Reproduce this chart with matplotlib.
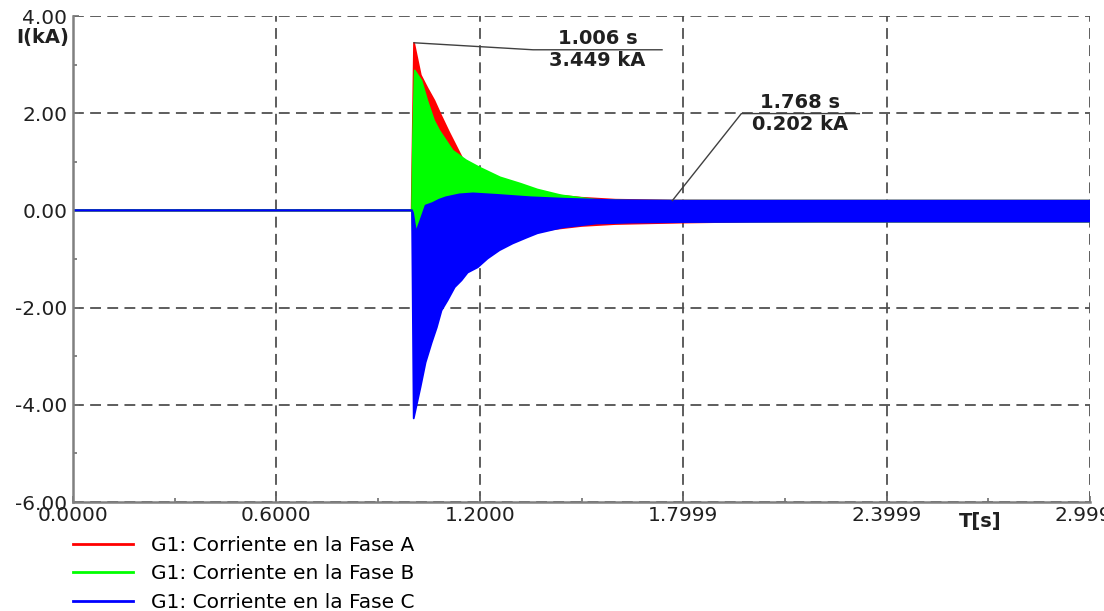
import matplotlib.pyplot as plt
from matplotlib.ticker import AutoMinorLocator

plt.rcParams['font.family'] = ['DejaVu Sans']

# Envolventes (tiempo en s, corriente en kA)
# Fase A (rojo)
ta_sup = [0.0, 0.999, 1.000, 1.006, 1.026, 1.046, 1.066, 1.086, 1.110, 1.150,
          1.200, 1.300, 1.400, 1.500, 1.600, 1.768, 2.000, 2.500, 2.9999]
ia_sup = [0.0, 0.0, 0.55, 3.449, 2.78, 2.51, 2.26, 1.95, 1.60, 1.05,
          0.80, 0.50, 0.33, 0.26, 0.22, 0.202, 0.20, 0.20, 0.20]
ta_inf = [0.0, 1.000, 1.006, 1.026, 1.060, 1.100, 1.200, 1.300, 1.400, 1.500,
          1.600, 1.800, 2.000, 2.9999]
ia_inf = [0.0, 0.0, 0.0, -0.20, -0.40, -0.50, -0.60, -0.55, -0.40, -0.32,
          -0.28, -0.25, -0.23, -0.23]

# Fase B (verde)
tb_sup = [0.0, 1.000, 1.003, 1.008, 1.028, 1.045, 1.065, 1.080, 1.100, 1.120,
          1.160, 1.200, 1.260, 1.320, 1.370, 1.440, 1.540, 1.640, 1.770, 2.000,
          2.500, 2.9999]
ib_sup = [0.0, 0.0, 1.50, 2.88, 2.67, 2.26, 1.85, 1.65, 1.44, 1.23,
          1.03, 0.88, 0.68, 0.55, 0.43, 0.31, 0.22, 0.20, 0.20, 0.20,
          0.20, 0.20]
tb_inf = [0.0, 1.000, 1.003, 1.008, 1.030, 1.065, 1.100, 1.160, 1.200, 1.260,
          1.320, 1.370, 1.440, 1.540, 1.640, 1.770, 2.000, 2.9999]
ib_inf = [0.0, 0.0, -0.50, -0.60, -0.90, -0.80, -0.70, -0.55, -0.50, -0.42,
          -0.37, -0.33, -0.29, -0.26, -0.24, -0.23, -0.23, -0.23]

# Fase C (azul)
tc_sup = [0.0, 1.000, 1.003, 1.012, 1.025, 1.040, 1.060, 1.080, 1.100, 1.140,
          1.180, 1.250, 1.350, 1.450, 1.600, 1.800, 2.9999]
ic_sup = [0.0, 0.0, -0.05, -0.45, -0.20, 0.10, 0.15, 0.22, 0.27, 0.33,
          0.35, 0.32, 0.27, 0.24, 0.21, 0.20, 0.20]
tc_inf = [0.0, 1.000, 1.005, 1.025, 1.040, 1.058, 1.073, 1.087, 1.105, 1.126,
          1.146, 1.164, 1.194, 1.223, 1.258, 1.297, 1.338, 1.370, 1.444, 1.544,
          1.650, 1.800, 2.200, 2.9999]
ic_inf = [0.0, 0.0, -4.28, -3.64, -3.13, -2.72, -2.41, -2.06, -1.85, -1.58,
          -1.44, -1.28, -1.17, -0.99, -0.82, -0.68, -0.56, -0.47, -0.35, -0.27,
          -0.25, -0.24, -0.23, -0.23]

nombres = ['G1: Corriente en la Fase A', 'G1: Corriente en la Fase B',
           'G1: Corriente en la Fase C']
colores = ['#ff0000', '#00ff00', '#0000ff']

# Marcadores (tiempo, valor)
marca_t = [1.006, 1.768]
marca_i = [3.449, 0.202]

xticks = [0.0, 0.59998, 1.19996, 1.79994, 2.39992, 2.9999]
xlabels = ['0.0000', '0.6000', '1.2000', '1.7999', '2.3999', '2.9999']
yticks = [-6, -4, -2, 0, 2, 4]
ylabels = ['-6.00', '-4.00', '-2.00', '0.00', '2.00', '4.00']

fig = plt.figure(figsize=(11.04, 6.11), dpi=100)
ax = fig.add_axes([73/1104, 1 - 502/611, (1090 - 73)/1104, (502 - 16)/611])

fases = [(ta_sup, ia_sup, ta_inf, ia_inf),
         (tb_sup, ib_sup, tb_inf, ib_inf),
         (tc_sup, ic_sup, tc_inf, ic_inf)]
for (ts, isup, ti, iinf), col, nom in zip(fases, colores, nombres):
    # poligono entre envolvente superior e inferior
    xs = list(ts) + list(ti[::-1])
    ys = list(isup) + list(iinf[::-1])
    ax.fill(xs, ys, color=col, lw=0, zorder=2)
    ax.plot(ts, isup, color=col, lw=1.3, zorder=2, label=nom)
    ax.plot(ti, iinf, color=col, lw=1.3, zorder=2)

ax.set_xlim(0, 2.9999)
ax.set_ylim(-6, 4)
ax.set_xticks(xticks)
ax.set_xticklabels(xlabels)
ax.set_yticks(yticks)
ax.set_yticklabels(ylabels)
ax.xaxis.set_minor_locator(AutoMinorLocator(2))
ax.yaxis.set_minor_locator(AutoMinorLocator(2))
ax.tick_params(which='both', direction='in', color='#707070', labelsize=14.5,
               labelcolor='#202020')
ax.tick_params(which='major', length=4, width=1.2)
ax.tick_params(which='minor', length=3, width=1.2)
ax.tick_params(axis='y', pad=4)
ax.tick_params(axis='x', pad=3)

ax.grid(True, which='major', color='#505050', lw=1.3, linestyle=(0, (6, 3.5)),
        zorder=1)
ax.set_axisbelow(True)
for s in ['top', 'right']:
    ax.spines[s].set_visible(False)
for s in ['left', 'bottom']:
    ax.spines[s].set_color('#808080')
    ax.spines[s].set_linewidth(1.8)
    ax.spines[s].set_zorder(3)

# Marcadores con linea de referencia (desplazamientos en pixeles)
geom = [(119, 7, 129), (69, -87, 118)]
for t, v, (dx, dy, w) in zip(marca_t, marca_i, geom):
    px, py = ax.transData.transform((t, v))
    ax.plot([px, px + dx, px + dx + w], [py, py - dy, py - dy],
            transform=None, color='#404040', lw=1.0, zorder=5, clip_on=False)
    fig.text((px + dx + w/2)/1104, (py - dy + 11)/611, f'{t:.3f} s',
             ha='center', va='center', fontsize=14, fontweight='bold',
             color='#202020')
    fig.text((px + dx + w/2)/1104, (py - dy - 11)/611, f'{v:.3f} kA',
             ha='center', va='center', fontsize=14, fontweight='bold',
             color='#202020')

fig.text(69/1104, 1 - 38/611, 'I(kA)', ha='right', va='center', fontsize=14,
         fontweight='bold', color='#202020')
fig.text(980/1104, 1 - 521/611, 'T[s]', ha='center', va='center', fontsize=14,
         fontweight='bold', color='#202020')

fig.legend(loc='upper left', bbox_to_anchor=(73/1104, 1 - 536/611),
           frameon=False, fontsize=14.5, handlelength=3.0, handletextpad=0.85,
           labelspacing=0.47, borderpad=0, borderaxespad=0)
for lh in fig.legends[0].get_lines():
    lh.set_linewidth(2)

fig.savefig('out.png', dpi=100)
